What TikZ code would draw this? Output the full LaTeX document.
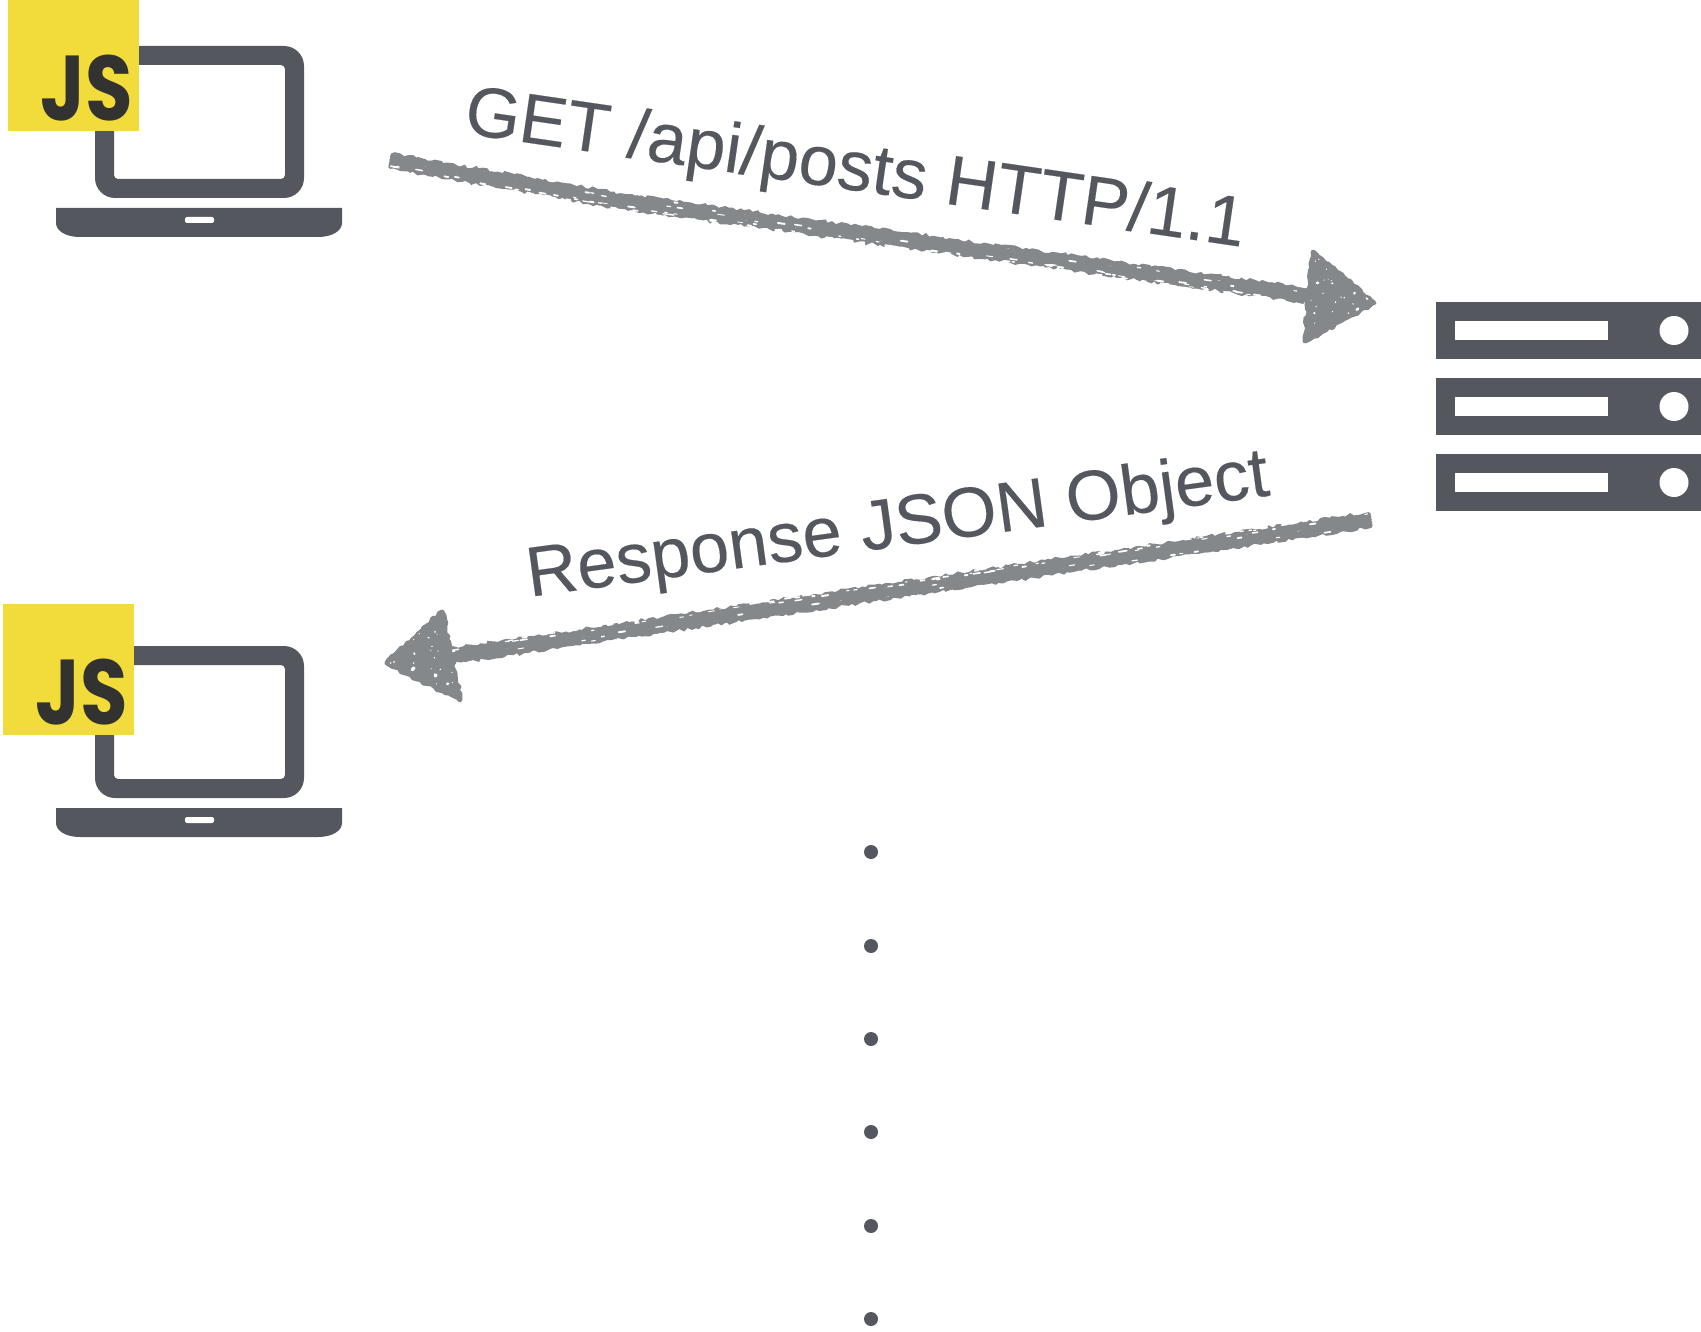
\documentclass[tikz,border=0pt]{standalone}
\usepackage{fontspec}
\setmainfont[FakeBold=0.25]{Liberation Sans}
\newfontfamily\jsfont{Poppins}
\usetikzlibrary{decorations.pathmorphing,calc}
\definecolor{ink}{HTML}{54585E}
\definecolor{chalkgrey}{HTML}{85888B}
\definecolor{jsyellow}{HTML}{F2DC3C}
\definecolor{jsink}{HTML}{323330}
\tikzset{
  x=1pt,y=-1pt,
  labeltext/.style={text=ink,font=\fontsize{70.5}{70.5}\selectfont,inner sep=0pt,outer sep=0pt},
  jsbadge/.style={fill=jsyellow,minimum width=131,minimum height=131,inner sep=0pt,outer sep=0pt,anchor=north west},
  jsword/.style={text=jsink,font=\jsfont\bfseries\fontsize{92}{92}\selectfont,inner sep=0pt,transform shape,xscale=0.84},
  dotmark/.style={circle,fill=ink,minimum size=14,inner sep=0pt,outer sep=0pt},
  chalkstroke/.style={draw=chalkgrey,line width=3.8,line cap=round,decorate,
    decoration={random steps,segment length=4,amplitude=1.7}},
  chalkfill/.style={fill=chalkgrey,draw=chalkgrey,line width=5,line join=round,decorate,
    decoration={random steps,segment length=4,amplitude=1.6}},
  pics/laptop/.style={code={
    \fill[ink,even odd rule]
      [rounded corners=20] (95,46) rectangle (304,198)
      [rounded corners=4] (114,65) rectangle (285,179);
    \fill[ink,rounded corners=0] (56,208) -- (342,208) -- (342,223)
      .. controls (342,231) and (332,237) .. (318,237) -- (80,237)
      .. controls (66,237) and (56,231) .. (56,223) -- cycle;
    \fill[white,rounded corners=2] (185,217) rectangle (214,223);
  }},
  pics/rack/.style={code={
    \fill[ink] (0,0) rectangle (265,57);
    \fill[white] (19,19) rectangle (172,38);
    \fill[white] (238,28.5) circle (14.5);
  }},
}
% #1, #2 ends of a chalk stroke, #3 its length in px
\newcommand{\chalkshaft}[3]{%
  \foreach \o in {-6,-4.5,-3,-1.5,0,1.5,3,4.5,6}{%
    \draw[chalkstroke] ($(#1)!\o pt!90:(#2)$) -- ($(#2)!\o pt!-90:(#1)$);
  }%
  \pgfmathtruncatemacro{\spN}{#3/9}%
  \foreach \t in {1,...,\spN}{%
    \pgfmathsetmacro{\spA}{rnd*#3}%
    \pgfmathsetmacro{\spB}{\spA+2+5*rnd}%
    \pgfmathsetmacro{\spQ}{rnd<0.8 ? -(4+4*rnd) : (-2+8*rnd)}%
    \pgfmathsetmacro{\spW}{0.8+1.2*rnd}%
    \draw[white,line width=\spW,line cap=round]
      ($($(#1)!\spA pt!(#2)$)!\spQ pt!90:(#2)$) --
      ($($(#1)!\spB pt!(#2)$)!\spQ pt!90:(#2)$);
  }%
}
\newcommand{\chalkhead}[3]{%
  \fill[chalkfill] (#1) -- (#2) -- (#3) -- cycle;
  \foreach \t in {1,...,22}{%
    \pgfmathsetmacro{\hdA}{rnd}\pgfmathsetmacro{\hdB}{rnd}%
    \pgfmathsetmacro{\hdU}{\hdA+\hdB>1?1-\hdA:\hdA}%
    \pgfmathsetmacro{\hdV}{\hdA+\hdB>1?1-\hdB:\hdB}%
    \pgfmathsetmacro{\hdR}{0.7+2*rnd*rnd}%
    \pgfmathsetmacro{\hdS}{\hdR*(0.5+0.4*rnd)}%
    \pgfmathsetmacro{\hdT}{rnd*180}%
    \fill[white] ($(#1)+\hdU*($(#2)-(#1)$)+\hdV*($(#3)-(#1)$)$)
      circle [x radius=\hdR pt,y radius=\hdS pt,rotate=\hdT];
  }%
}
\begin{document}
\begin{tikzpicture}
\pgfmathsetseed{4242}
\useasboundingbox (0,0) rectangle (1701,1332);

% clients
\pic (clientA) at (0,0) {laptop};
\node[jsbadge] (jsA) at (8,0) {};
\node[jsword] (jsAword) at (87,88) {JS};
\pic (clientB) at (0,600) {laptop};
\node[jsbadge] (jsB) at (3,604) {};
\node[jsword] (jsBword) at (82,692) {JS};

% server
\pic (rackA) at (1436,302) {rack};
\pic (rackB) at (1436,378) {rack};
\pic (rackC) at (1436,454) {rack};

% request arrow
\coordinate (reqStart) at (391,161);
\coordinate (reqMid) at (620,201);
\coordinate (reqEnd) at (1312,296);
\coordinate (reqTip) at (1374,303);
\coordinate (reqBaseA) at (1313,252);
\coordinate (reqBaseB) at (1305,341);
\chalkshaft{reqStart}{reqMid}{232}
\chalkshaft{reqMid}{reqEnd}{698}
\chalkhead{reqTip}{reqBaseA}{reqBaseB}
\node[labeltext,rotate=-8.3] (reqLabel) at (855,172) {GET /api/posts HTTP/1.1};

% response arrow
\coordinate (resStart) at (1370,520);
\coordinate (resEnd) at (445,657);
\coordinate (resTip) at (387,663);
\coordinate (resBaseA) at (442,612);
\coordinate (resBaseB) at (460,700);
\chalkshaft{resStart}{resEnd}{935}
\chalkhead{resTip}{resBaseA}{resBaseB}
\node[labeltext,rotate=7.8] (resLabel) at (898,528) {Response JSON Object};

% continuation dots
\foreach \n/\yy in {1/852,2/946,3/1039,4/1132,5/1226,6/1319}{
  \node[dotmark] (dot\n) at (871,\yy) {};
}
\end{tikzpicture}
\end{document}
